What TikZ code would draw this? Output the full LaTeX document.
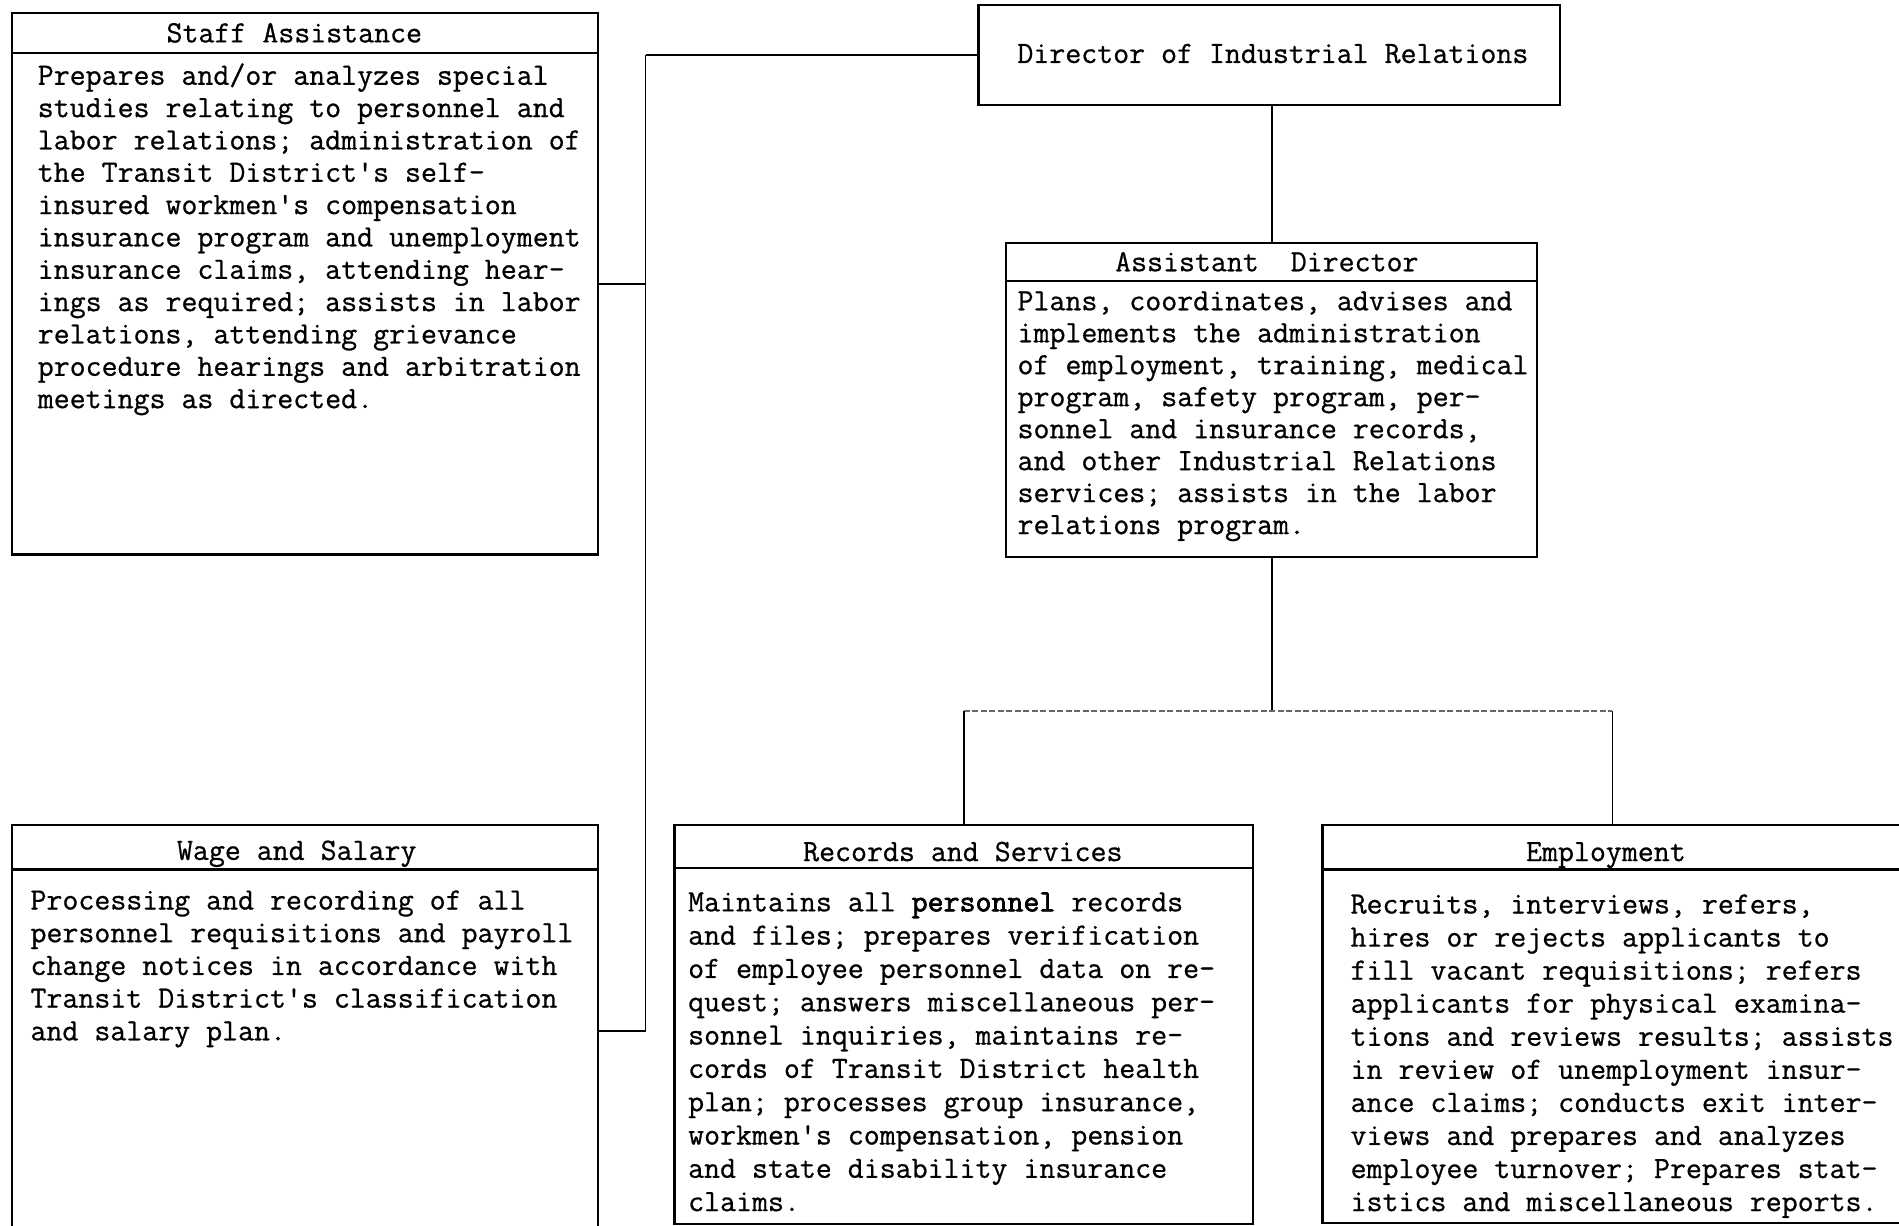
\documentclass[tikz,border=0pt]{standalone}
\usepackage{fontspec}
\newfontfamily\typer{Latin Modern Mono}[FakeBold=0.7]
\newfontfamily\heavytt{Latin Modern Mono}[FakeBold=2.2]
\begin{document}
\begin{tikzpicture}[x=1pt,y=-1pt,
  box/.style={draw, line width=1.8pt, rectangle, inner sep=0pt, anchor=north west},
  lbl/.style={font=\typer\fontsize{25.6}{26.7}\selectfont, inner sep=0pt, anchor=base},
  body/.style={font=\typer\fontsize{25.6}{#1}\selectfont, inner sep=0pt, anchor=base west, align=left},
  body/.default=26.7,
  sep/.style={line width=1.8pt},
  link/.style={line width=1.6pt},
  thinlink/.style={line width=1.2pt},
  busline/.style={line width=1pt, black!60, dash pattern=on 5pt off 2pt}
]
\useasboundingbox (0,0) rectangle (1568,1012);
\clip (0,0) rectangle (1568,1012);

% ---- boxes ----
\node[box, minimum width=480, minimum height=83]  (dir)   at (807,3)   {};
\node[box, minimum width=484, minimum height=447] (staff) at (9,10)    {};
\node[box, minimum width=438, minimum height=259] (asst)  at (830,200) {};
\node[box, minimum width=484, minimum height=340] (wage)  at (9,680)   {};
\node[box, minimum width=478, minimum height=330] (rec)   at (556,680) {};
\node[box, minimum width=479, minimum height=329] (emp)   at (1091,680){};

% title rules
\draw[sep] (staff.west |- 0,44)  -- (staff.east |- 0,44);
\draw[sep] (asst.west |- 0,232)  -- (asst.east |- 0,232);
\draw[sep] (wage.west |- 0,718)  -- (wage.east |- 0,718);
\draw[sep] (rec.west |- 0,717)   -- (rec.east |- 0,717);
\draw[sep] (emp.west |- 0,718)   -- (emp.east |- 0,718);

% ---- titles ----
\node[lbl] (dirt)   at (1051,52)  {Director of Industrial Relations};
\node[lbl] (stafft) at (243,35)   {Staff Assistance};
\node[lbl] (asstt)  at (1046,224) {Assistant\ \ Director};
\node[lbl] (waget)  at (245,710)  {Wage and Salary};
\node[lbl] (rect)   at (795,711)  {Records and Services};
\node[lbl] (empt)   at (1326,711) {Employment};

% ---- descriptions (placed at the baseline of their last line) ----
\node[body=26.7] (staffb) at (31,337) {%
Prepares and/or analyzes special\\
studies relating to personnel and\\
labor relations; administration of\\
the Transit District's self-\\
insured workmen's compensation\\
insurance program and unemployment\\
insurance claims, attending hear-\\
ings as required; assists in labor\\
relations, attending grievance\\
procedure hearings and arbitration\\
meetings as directed.};

\node[body=26.4] (asstb) at (840,441) {%
Plans, coordinates, advises and\\
implements the administration\\
of employment, training, medical\\
program, safety program, per-\\
sonnel and insurance records,\\
and other Industrial Relations\\
services; assists in the labor\\
relations program.};

\node[body=27] (wageb) at (25,859) {%
Processing and recording of all\\
personnel requisitions and payroll\\
change notices in accordance with\\
Transit District's classification\\
and salary plan.};

\node[body=27.5] (recb) at (568,1000) {%
Maintains all {\heavytt personnel} records\\
and files; prepares verification\\
of employee personnel data on re-\\
quest; answers miscellaneous per-\\
sonnel inquiries, maintains re-\\
cords of Transit District health\\
plan; processes group insurance,\\
workmen's compensation, pension\\
and state disability insurance\\
claims.};

\node[body=27.3] (empb) at (1115,1000) {%
Recruits, interviews, refers,\\
hires or rejects applicants to\\
fill vacant requisitions; refers\\
applicants for physical examina-\\
tions and reviews results; assists\\
in review of unemployment insur-\\
ance claims; conducts exit inter-\\
views and prepares and analyzes\\
employee turnover; Prepares stat-\\
istics and miscellaneous reports.};

% ---- connectors ----
\coordinate (trunk) at (533,0);
\coordinate (bus) at (0,587);

\draw[link] (dir.west) -- (dir.west -| trunk);
\draw[thinlink] (dir.west -| trunk) -- (wage.east -| trunk);
\draw[link] (wage.east -| trunk) -- (wage.east);
\draw[link] (staff.east) -- (staff.east -| trunk);

\draw[link] (asst.north |- dir.south) -- (asst.north);
\draw[link] (asst.south) -- (asst.south |- bus);
\draw[busline] (rec.north |- bus) -- (emp.north |- bus);
\draw[link] (rec.north |- bus) -- (rec.north);
\draw[link] (emp.north |- bus) -- (emp.north);
\end{tikzpicture}
\end{document}
